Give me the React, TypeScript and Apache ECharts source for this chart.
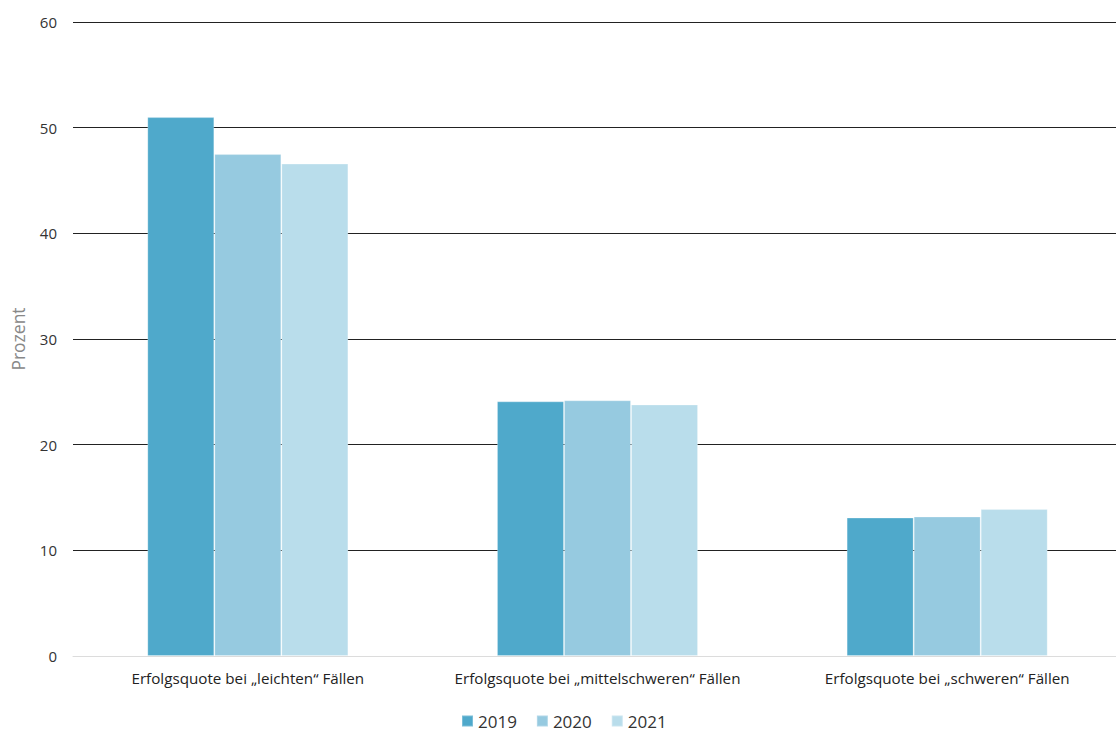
import React, { useEffect, useRef } from "react";
import * as echarts from "echarts";

const categories = [
  "Erfolgsquote bei „leichten“ Fällen",
  "Erfolgsquote bei „mittelschweren“ Fällen",
  "Erfolgsquote bei „schweren“ Fällen",
];
const years = ["2019", "2020", "2021"];
const values2019 = [51.0, 24.1, 13.1];
const values2020 = [47.5, 24.2, 13.2];
const values2021 = [46.6, 23.8, 13.9];
const colors = ["#4FA9CB", "#96CAE0", "#B9DDEB"];

const FONT = "'Open Sans', 'Noto Sans', sans-serif";

export default function App() {
  const ref = useRef<HTMLDivElement>(null);

  useEffect(() => {
    if (!ref.current) return;
    const chart = echarts.init(ref.current, undefined, { renderer: "svg" });
    const seriesValues = [values2019, values2020, values2021];
    chart.setOption({
      animation: false,
      textStyle: { fontFamily: FONT },
      // plot area runs slightly past the right edge of the visible page
      grid: { left: 73, right: 2, top: 22, bottom: 75, containLabel: false },
      legend: {
        top: 712,
        left: 461,
        padding: 0,
        itemWidth: 11,
        itemHeight: 11,
        itemGap: 19,
        icon: "rect",
        textStyle: {
          fontSize: 17,
          lineHeight: 18,
          color: "#333",
          fontFamily: FONT,
        },
        data: years,
      },
      xAxis: {
        type: "category",
        data: categories,
        axisTick: { show: false },
        axisLine: { show: true, lineStyle: { color: "#dcdcdc", width: 1 } },
        axisLabel: {
          interval: 0,
          color: "#222",
          fontSize: 15.2,
          margin: 14,
          fontFamily: FONT,
        },
      },
      yAxis: {
        type: "value",
        min: 0,
        max: 60,
        interval: 10,
        name: "Prozent",
        nameLocation: "middle",
        nameGap: 46,
        nameTextStyle: { color: "#888", fontSize: 17.5, fontFamily: FONT },
        axisLabel: { color: "#333", fontSize: 15, margin: 16, fontFamily: FONT },
        axisLine: { show: false },
        axisTick: { show: false },
        splitLine: { show: true, lineStyle: { color: "#222", width: 1 } },
      },
      series: years.map((y, i) => ({
        name: y,
        type: "bar",
        data: seriesValues[i],
        barGap: "0%",
        barCategoryGap: "42.5%",
        itemStyle: {
          color: colors[i],
          borderColor: "rgba(255,255,255,0.25)",
          borderWidth: 1,
        },
      })),
    });
    return () => chart.dispose();
  }, []);

  return (
    <div style={{ position: "fixed", left: 0, top: 0, width: 1116, height: 731, overflow: "hidden", background: "#fff" }}>
      <div ref={ref} style={{ width: 1124, height: 731 }} />
    </div>
  );
}
